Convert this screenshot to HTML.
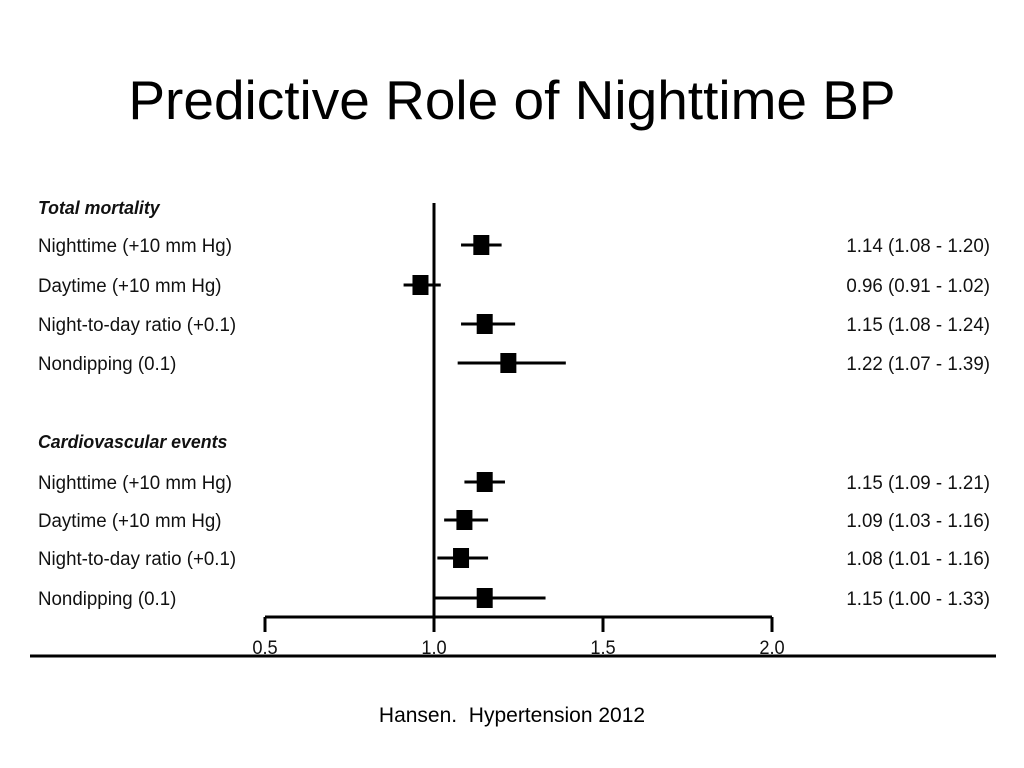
<!DOCTYPE html>
<html><head><meta charset="utf-8">
<style>
body{margin:0;background:#fff;width:1024px;height:768px;overflow:hidden;font-family:"Liberation Sans",sans-serif;}
#title{position:absolute;left:0;width:1024px;top:68px;text-align:center;font-size:55px;color:#000;font-family:"Liberation Sans",sans-serif;}
#cite{position:absolute;left:0;width:1024px;top:704px;text-align:center;font-size:21px;}
svg{position:absolute;left:0;top:0;}
</style></head><body>
<div id="title">Predictive Role of Nighttime BP</div>
<svg id="chart" width="1024" height="768"></svg>
<div id="cite">Hansen.&nbsp; Hypertension 2012</div>
<script>
const labels=["Nighttime (+10 mm Hg)","Daytime (+10 mm Hg)","Night-to-day ratio (+0.1)","Nondipping (0.1)","Nighttime (+10 mm Hg)","Daytime (+10 mm Hg)","Night-to-day ratio (+0.1)","Nondipping (0.1)"];
const est=[1.14,0.96,1.15,1.22,1.15,1.09,1.08,1.15];
const lo=[1.08,0.91,1.08,1.07,1.09,1.03,1.01,1.00];
const hi=[1.20,1.02,1.24,1.39,1.21,1.16,1.16,1.33];
const rowY=[245,285,324,363,482,520,558,598];
const ticks=[0.5,1.0,1.5,2.0];
const tickLabels=["0.5","1.0","1.5","2.0"];
const headers=["Total mortality","Cardiovascular events"];
const headerY=[207,441];
const NS="http://www.w3.org/2000/svg";
const svg=document.getElementById('chart');
const x=v=>434+(v-1)*338;
function mk(t,a){const e=document.createElementNS(NS,t);for(const k in a)e.setAttribute(k,a[k]);svg.appendChild(e);return e;}
function txt(s,xx,yy,anchor,extra){const e=mk('text',Object.assign({x:xx,y:yy,'text-anchor':anchor,'font-size':19.5,'font-family':'Liberation Sans, sans-serif',fill:'#111',transform:`translate(${xx},0) scale(0.96,1) translate(${-xx},0)`},extra||{}));e.textContent=s;return e;}
let e=mk('line',{x1:x(0.5),x2:x(2.0),y1:617,y2:617,stroke:'#000','stroke-width':3});

ticks.forEach((t,i)=>{
  let l=mk('line',{x1:x(t),x2:x(t),y1:617,y2:632,stroke:'#000','stroke-width':3});
  
  let tl=txt(tickLabels[i],x(t),654,'middle',{'font-size':19});
  
});
e=mk('line',{x1:x(1),x2:x(1),y1:203,y2:617,stroke:'#000','stroke-width':3});

e=mk('line',{x1:30,x2:996,y1:656,y2:656,stroke:'#000','stroke-width':3});

headers.forEach((h,i)=>{
  let t=txt(h,38,headerY[i]+7,'start',{'font-weight':'bold','font-style':'italic','font-size':18.5});
  
});
labels.forEach((s,i)=>{
  const y=rowY[i];
  let t=txt(s,38,y+7,'start');
  
  let ci=mk('line',{x1:x(lo[i]),x2:x(hi[i]),y1:y,y2:y,stroke:'#000','stroke-width':3});
  
  let b=mk('rect',{x:x(est[i])-8,y:y-10,width:16,height:20,fill:'#000'});
  
  let v=txt(`${est[i].toFixed(2)} (${lo[i].toFixed(2)} - ${hi[i].toFixed(2)})`,990,y+7,'end');
  
});
</script>
</body></html>
